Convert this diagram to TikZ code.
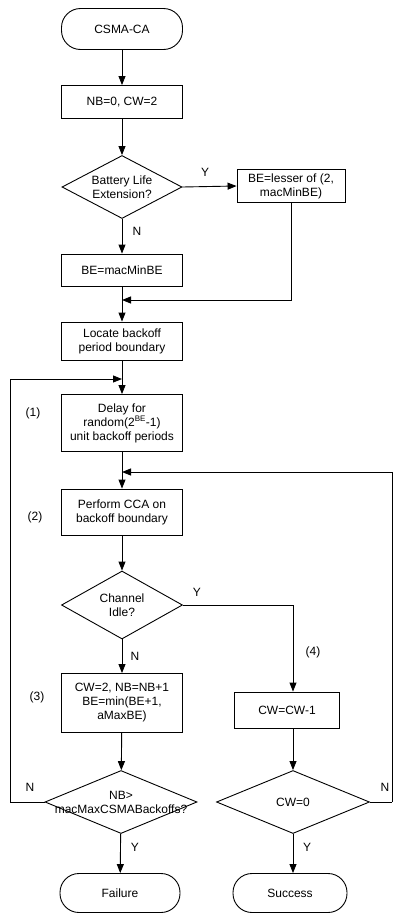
\documentclass[tikz,border=0pt]{standalone}
\usepackage{fontspec}
\setmainfont{Liberation Sans}
\usetikzlibrary{arrows.meta,shapes.geometric}
\begin{document}
\begin{tikzpicture}[x=1pt,y=1pt,
  every node/.style={font=\fontsize{12}{14}\selectfont},
  line/.style={line width=0.9pt},
  arr/.style={line width=0.9pt,-{Triangle[length=9pt,width=7pt]}},
  box/.style={draw,line width=0.9pt,rectangle,align=center,inner sep=0pt,minimum width=121pt},
  term/.style={draw,line width=0.9pt,rectangle,rounded corners=19pt,align=center,inner sep=0pt,minimum height=39pt},
  dec/.style={draw,line width=0.9pt,diamond,inner sep=0pt},
  lab/.style={inner sep=0pt}
]
\useasboundingbox (0,0) rectangle (393,-913);
% nodes
\node[term,minimum width=121pt,minimum height=41pt] (start) at (122,-29) {CSMA-CA};
\node[box,minimum height=33pt] (b1) at (122,-102) {NB=0, CW=2};
\node[dec,minimum width=120pt,minimum height=63pt] (d1) at (122,-187) {};
\node[lab,align=center] (d1t) at (d1.center) {Battery Life\\Extension?};
\node[box,minimum width=108pt,minimum height=33pt] (b2) at (291,-186) {BE=lesser of (2,\\macMinBE)};
\node[box,minimum height=32pt] (b3) at (122,-270) {BE=macMinBE};
\node[box,minimum height=38pt] (b4) at (122,-341) {Locate backoff\\period boundary};
\node[box,minimum height=57pt] (b5) at (122,-423) {Delay for\\random(2\textsuperscript{BE}-1)\\unit backoff periods};
\node[box,minimum height=46pt] (b6) at (122,-512) {Perform CCA on\\backoff boundary};
\node[dec,minimum width=121pt,minimum height=68pt] (d2) at (122,-605) {};
\node[lab,align=center] (d2t) at (d2.center) {Channel\\Idle?};
\node[box,minimum height=59pt] (b7) at (122,-703) {CW=2, NB=NB+1\\BE=min(BE+1,\\aMaxBE)};
\node[box,minimum width=105pt,minimum height=36pt] (b8) at (287,-710) {CW=CW-1};
\node[dec,minimum width=152pt,minimum height=63pt] (d3) at (121,-802) {};
\node[lab,align=center] (d3t) at (d3.center) {NB\textgreater\\macMaxCSMABackoffs?};
\node[dec,minimum width=153pt,minimum height=63pt] (d4) at (293,-802) {};
\node[lab] (d4t) at (d4.center) {CW=0};
\node[term,minimum width=120pt] (fail) at (120,-893) {Failure};
\node[term,minimum width=114pt] (succ) at (290,-893) {Success};
% labels
\node[lab] (y1) at (205,-172) {Y};
\node[lab] (n1) at (137,-231) {N};
\node[lab] (l1) at (33,-413) {(1)};
\node[lab] (l2) at (35,-517) {(2)};
\node[lab] (y2) at (197,-592) {Y};
\node[lab] (n2) at (135,-656) {N};
\node[lab] (l3) at (37,-697) {(3)};
\node[lab] (l4) at (313,-652) {(4)};
\node[lab] (n3) at (30,-787) {N};
\node[lab] (y3) at (135,-847) {Y};
\node[lab] (n4) at (385,-787) {N};
\node[lab] (y4) at (307,-847) {Y};
% coordinates
\coordinate (j1) at (122,-300);
\coordinate (j2) at (122,-379);
\coordinate (j3) at (122,-472);
\coordinate (cr) at (293,-605);
\coordinate (lx) at (10,-802);
\coordinate (rx) at (392,-802);
% connectors
\draw[arr] (start) -- (b1);
\draw[arr] (b1) -- (d1);
\draw[arr] (d1.east) -- (b2.west);
\draw[arr] (d1) -- (b3);
\draw[line] (b3) -- (j1);
\draw[arr] (b2.south) |- (j1);
\draw[arr] (j1) -- (b4);
\draw[line] (b4) -- (j2);
\draw[arr] (j2) -- (b5);
\draw[line] (b5) -- (j3);
\draw[arr] (j3) -- (b6);
\draw[arr] (b6) -- (d2);
\draw[arr] (d2) -- (b7);
\draw[line] (d2.east) -- (cr);
\draw[arr] (cr) -- (cr |- b8.north);
\draw[arr] (b7) -- (d3);
\draw[arr] (cr |- b8.south) -- (d4.north);
\draw[arr] (d3) -- (fail);
\draw[arr] (d4.south) -- (d4.south |- succ.north);
\draw[line] (d3.west) -- (lx);
\draw[arr] (lx) |- (j2);
\draw[line] (d4.east) -- (rx);
\draw[arr] (rx) |- (j3);
\end{tikzpicture}
\end{document}
